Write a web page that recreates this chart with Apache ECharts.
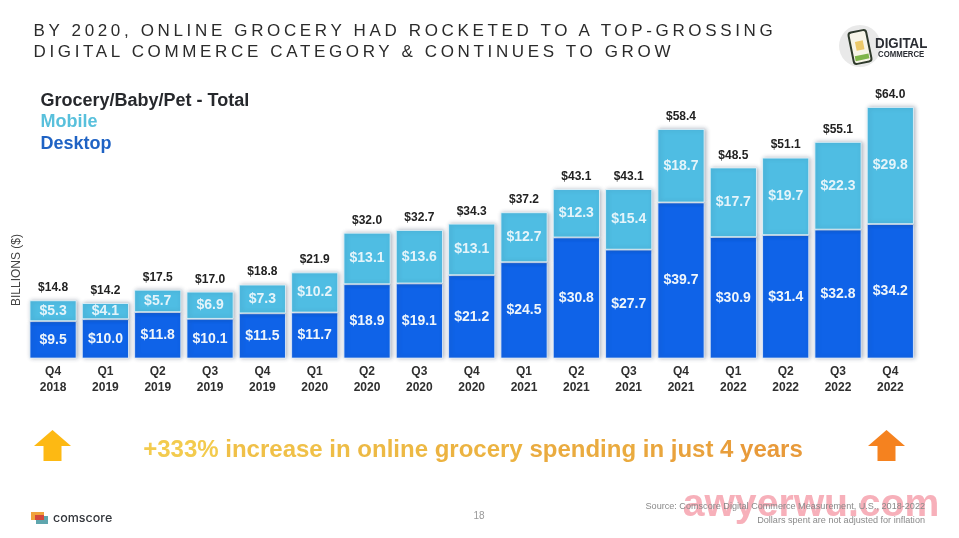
<!DOCTYPE html>
<html>
<head>
<meta charset="utf-8">
<style>
html,body{margin:0;padding:0;background:#fff;}
#chart{position:absolute;left:0;top:0;width:959px;height:538px;}
#headline{position:absolute;left:33.5px;top:21px;margin:0;font:400 17px/20.5px "Liberation Sans",Arial,sans-serif;letter-spacing:3.65px;color:#2b2b2b;white-space:nowrap;z-index:2;}
</style>
<script src="https://cdn.jsdelivr.net/npm/echarts@6/dist/echarts.min.js"></script>
</head>
<body>
<h1 id="headline"></h1>
<div id="chart"></div>
<script>
const titleLines = ['BY 2020, ONLINE GROCERY HAD ROCKETED TO A TOP-GROSSING', 'DIGITAL COMMERCE CATEGORY & CONTINUES TO GROW'];
const categories = ['Q4\n2018','Q1\n2019','Q2\n2019','Q3\n2019','Q4\n2019','Q1\n2020','Q2\n2020','Q3\n2020','Q4\n2020','Q1\n2021','Q2\n2021','Q3\n2021','Q4\n2021','Q1\n2022','Q2\n2022','Q3\n2022','Q4\n2022'];
const desktop = [9.5,10.0,11.8,10.1,11.5,11.7,18.9,19.1,21.2,24.5,30.8,27.7,39.7,30.9,31.4,32.8,34.2];
const mobile = [5.3,4.1,5.7,6.9,7.3,10.2,13.1,13.6,13.1,12.7,12.3,15.4,18.7,17.7,19.7,22.3,29.8];
const total = [14.8,14.2,17.5,17.0,18.8,21.9,32.0,32.7,34.3,37.2,43.1,43.1,58.4,48.5,51.1,55.1,64.0];

const FONT = '"Liberation Sans",Arial,sans-serif';
const money = p => '$' + p.value.toFixed(1);
document.getElementById('headline').innerHTML = titleLines.join('<br>').replace('&', '&amp;');

function txt(x, y, text, font, fill, extra) {
  return Object.assign({ type: 'text', x, y, style: { text, font, fill, textVerticalAlign: 'middle' } }, extra || {});
}
function arrow(cx, color) {
  return { type: 'polygon', shape: { points: [[cx,430],[cx+18.5,446],[cx+9,446],[cx+9,461],[cx-9,461],[cx-9,446],[cx-18.5,446]] }, style: { fill: color } };
}
const barShadow = { shadowBlur: 4, shadowColor: 'rgba(40,60,90,.35)', shadowOffsetX: 1.5, shadowOffsetY: 0 };

const calloutWords = '+333% increase in online grocery spending in just 4 years'.split(' ');
const calloutStops = ['#f3cb4e','#f0c048','#eebd46','#edb944','#ecb341','#eaab3f','#e9a63d','#e9a23c','#e89e3b','#e89a3a'];
const calloutRich = {};
calloutWords.forEach((w, i) => { calloutRich['w' + i] = { fill: calloutStops[i], font: 'bold 24px ' + FONT }; });
const calloutText = calloutWords.map((w, i) => '{w' + i + '|' + w + '}').join('{w0| }');

const chart = echarts.init(document.getElementById('chart'), null, { renderer: 'canvas' });
chart.setOption({
  animation: false,
  backgroundColor: '#fff',
  grid: { left: 26.9, right: 42.5, top: 83.4, bottom: 179.5 },
  xAxis: {
    type: 'category', data: categories,
    axisLine: { show: false }, axisTick: { show: false },
    axisLabel: { color: '#2f2f2f', fontFamily: FONT, fontWeight: 'bold', fontSize: 12, lineHeight: 16, margin: 5, interval: 0 }
  },
  yAxis: { type: 'value', min: 0, max: 70, show: false },
  series: [
    { name: 'Desktop', type: 'bar', stack: 'spend', data: desktop, barWidth: 47,
      itemStyle: Object.assign({ color: '#0f63e8', borderColor: '#eaf3fb', borderWidth: 0.8 }, barShadow),
      label: { show: true, position: 'inside', formatter: money, color: '#eef5fb', fontFamily: FONT, fontWeight: 'bold', fontSize: 14 } },
    { name: 'Mobile', type: 'bar', stack: 'spend', data: mobile, barWidth: 47,
      itemStyle: Object.assign({ color: '#4fbde3', borderColor: '#eaf6fb', borderWidth: 0.8 }, barShadow),
      label: { show: true, position: 'inside', formatter: money, color: '#e4f4fa', fontFamily: FONT, fontWeight: 'bold', fontSize: 14 } },
    { name: 'Total', type: 'line', data: total, symbol: 'circle', symbolSize: 1, showSymbol: true, showAllSymbol: true,
      itemStyle: { color: 'rgba(0,0,0,0)' }, lineStyle: { color: 'rgba(0,0,0,0)', width: 0 }, z: 5,
      label: { show: true, position: 'top', distance: 6, formatter: money, color: '#222', fontFamily: FONT, fontWeight: 'bold', fontSize: 12 } }
  ],
  graphic: { elements: [
    txt(40.5, 101, 'Grocery/Baby/Pet - Total', 'bold 18px ' + FONT, '#26282c'),
    txt(40.5, 122, 'Mobile', 'bold 18px ' + FONT, '#58c0dc'),
    txt(40.5, 144, 'Desktop', 'bold 18px ' + FONT, '#1f63c4'),
    { type: 'text', x: 17, y: 270, rotation: Math.PI / 2, style: { text: 'BILLIONS ($)', font: '12px ' + FONT, fill: '#444', textAlign: 'center', textVerticalAlign: 'middle' } },
    arrow(52.5, '#fdb913'),
    arrow(886.5, '#f5821f'),
    { type: 'text', x: 473, y: 450, style: { text: calloutText, rich: calloutRich, align: 'center', verticalAlign: 'middle' } },
    { type: 'circle', shape: { cx: 860, cy: 46, r: 21 }, style: { fill: '#e9e9e9' } },
    { type: 'rect', x: 860, y: 47, rotation: 0.2, shape: { x: -9, y: -16, width: 18, height: 32, r: 3 }, style: { fill: '#f7f5e8', stroke: '#2f3a2c', lineWidth: 2 } },
    { type: 'rect', x: 860, y: 47, rotation: 0.2, shape: { x: -7, y: 8, width: 14, height: 5 }, style: { fill: '#7fb54a' } },
    { type: 'rect', x: 860, y: 47, rotation: 0.2, shape: { x: -4, y: -6, width: 8, height: 9 }, style: { fill: '#ecc96a' } },
    txt(875, 44, 'DIGITAL', 'bold 15.5px ' + FONT, '#2a2d33', { scaleX: 0.86 }),
    txt(878, 54.5, 'COMMERCE', 'bold 9.5px ' + FONT, '#2a2d33', { scaleX: 0.82 }),
    { type: 'rect', shape: { x: 31, y: 512, width: 13, height: 8 }, style: { fill: '#f0a23c' } },
    { type: 'rect', shape: { x: 36, y: 516, width: 12, height: 8 }, style: { fill: '#5fa6ae' } },
    { type: 'rect', shape: { x: 35, y: 515, width: 9, height: 5 }, style: { fill: '#d4483c' } },
    txt(53, 518, 'comscore', '500 12.5px Inter,' + FONT, '#33363b'),
    { type: 'text', x: 479, y: 516, style: { text: '18', font: '10px ' + FONT, fill: '#999', textAlign: 'center', textVerticalAlign: 'middle' } },
    { type: 'text', x: 811, y: 506, scaleX: 1.03, style: { text: 'awyerwu.com', font: 'bold 38px ' + FONT, fill: '#f7b0ba', textAlign: 'center', textVerticalAlign: 'middle' } },
    { type: 'text', x: 925, y: 506, style: { text: 'Source: Comscore Digital Commerce Measurement, U.S., 2018-2022', font: '9.1px ' + FONT, fill: '#8a8a8a', textAlign: 'right', textVerticalAlign: 'middle' } },
    { type: 'text', x: 925, y: 520, style: { text: 'Dollars spent are not adjusted for inflation', font: '9.1px ' + FONT, fill: '#8a8a8a', textAlign: 'right', textVerticalAlign: 'middle' } }
  ] }
});
</script>
</body>
</html>
